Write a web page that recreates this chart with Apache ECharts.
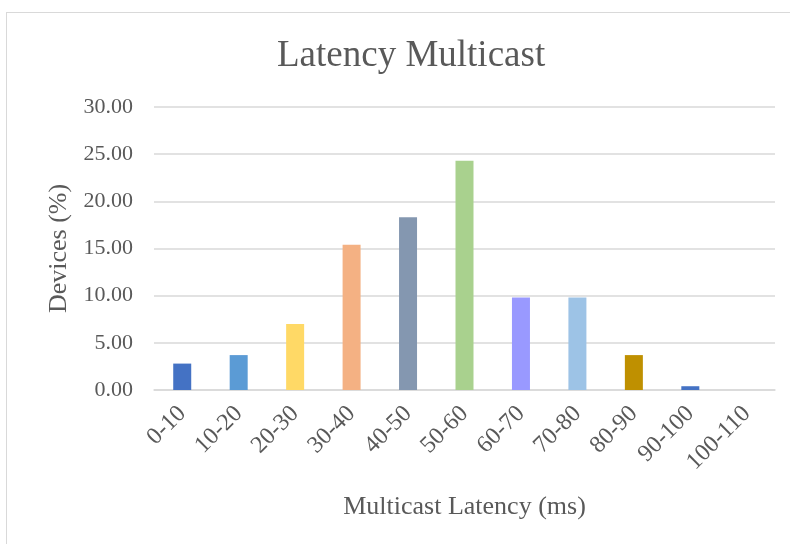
<!DOCTYPE html>
<html>
<head>
<meta charset="utf-8">
<script src="https://cdn.jsdelivr.net/npm/echarts@6/dist/echarts.min.js"></script>
<style>
  html, body { margin: 0; padding: 0; background: #fff; overflow: hidden; }
  .frame {
    position: absolute; left: 6px; top: 12px;
    width: 900px; height: 700px;
    border: 1px solid #d9d9d9;
  }
  #chart { position: absolute; left: 0; top: 0; width: 790px; height: 544px; }
</style>
</head>
<body>
<div class="frame"></div>
<div id="chart"></div>
<script>
// latency buckets (ms) and share of devices (%)
const categories = ['0-10', '10-20', '20-30', '30-40', '40-50', '50-60', '60-70', '70-80', '80-90', '90-100', '100-110'];
const devices = [2.8, 3.7, 7.0, 15.4, 18.3, 24.3, 9.8, 9.8, 3.7, 0.4, 0];

const barColors = ['#4472C4', '#5B9BD5', '#FFD966', '#F4B183', '#8497B0', '#A9D18E',
                   '#9999FF', '#9DC3E6', '#BF9000', '#4472C4', '#A5A5A5'];

const serif = 'Liberation Serif';
const grey = '#595959';

const chart = echarts.init(document.getElementById('chart'));
chart.setOption({
  animation: false,
  title: {
    text: 'Latency Multicast',
    left: 272,
    top: 33,
    textStyle: { fontFamily: serif, fontSize: 37, fontWeight: 'normal', color: grey }
  },
  grid: { left: 154, right: 15, top: 107, bottom: 154, containLabel: false },
  xAxis: {
    type: 'category',
    data: categories,
    name: 'Multicast Latency (ms)',
    nameLocation: 'middle',
    nameGap: 104,
    nameTextStyle: { fontFamily: serif, fontSize: 26, color: grey },
    axisLine: { lineStyle: { color: '#d9d9d9', width: 1.5 } },
    axisTick: { show: false },
    axisLabel: { rotate: 45, margin: 20, fontFamily: serif, fontSize: 24, color: grey, interval: 0 }
  },
  yAxis: {
    type: 'value',
    min: 0,
    max: 30,
    interval: 5,
    name: 'Devices (%)',
    nameLocation: 'middle',
    nameGap: 82,
    nameTextStyle: { fontFamily: serif, fontSize: 26, color: grey },
    axisLine: { show: false },
    axisTick: { show: false },
    axisLabel: {
      margin: 21, fontFamily: serif, fontSize: 22, color: grey,
      formatter: v => v.toFixed(2)
    },
    splitLine: { lineStyle: { color: '#d9d9d9', width: 1.5 } }
  },
  series: [{
    type: 'bar',
    data: devices,
    barWidth: 18,
    itemStyle: { color: p => barColors[p.dataIndex] }
  }]
});
</script>
</body>
</html>
